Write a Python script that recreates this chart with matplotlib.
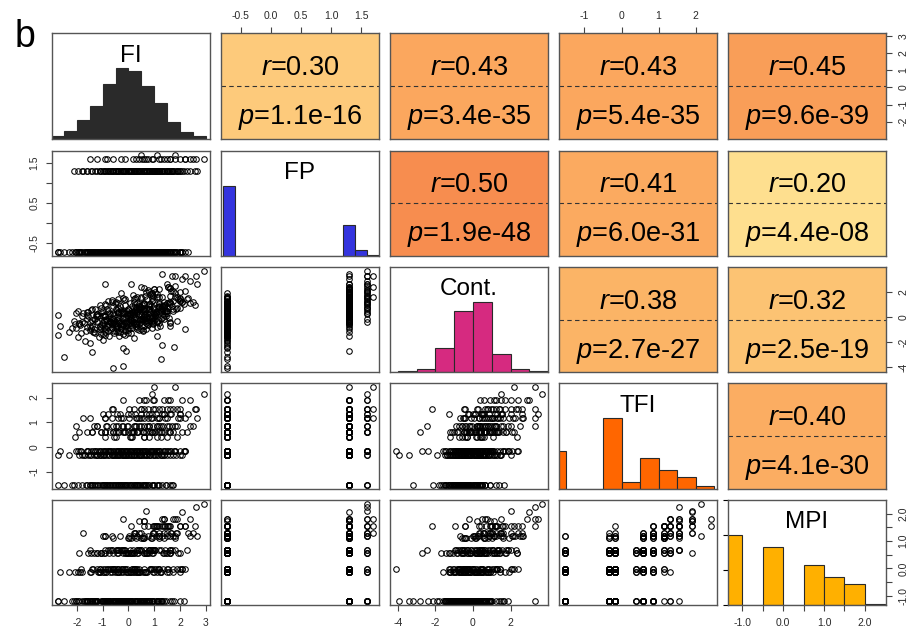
import numpy as np
import matplotlib
matplotlib.use('Agg')
import matplotlib.pyplot as plt

plt.rcParams['font.family'] = ['Liberation Sans', 'DejaVu Sans']
plt.rcParams['mathtext.fontset'] = 'custom'
plt.rcParams['mathtext.it'] = 'Liberation Sans:italic'
plt.rcParams['mathtext.rm'] = 'Liberation Sans'
plt.rcParams['axes.unicode_minus'] = False

var_names = ['FI', 'FP', 'Cont.', 'TFI', 'MPI']

# ---------------- sample values (read/estimated from the scatter panels) -------------
fi = [
    # FP low / TFI -1.53
    -2.75, -2.2, -1.95, -1.8, -1.65, -1.5, -1.4, -1.3, -1.2, -1.1,
    -1.0, -0.95, -0.85, -0.75, -2.51, -0.6, -0.55, -0.45, -0.4, -0.35,
    -0.3, -0.2, -0.15, -0.1, 0.0, 0.05, 0.15, 0.2, 0.3, 0.35,
    0.45, 0.55, 0.6, 0.7, 0.8, 0.9, 1.0, 1.15, 1.3, 1.45,
    1.6, 1.75,
    # FP low / TFI -0.34
    -2.73, -2.3, -1.9, -1.7, -1.55, -1.35, -1.2, -1.05, -0.95, -0.8,
    -0.65, -0.55, -0.45, -0.35, -0.2, -0.1, 0.0, 0.1, 0.2, 0.3,
    0.4, 0.5, 0.6, 0.7, 0.85, 0.95, 1.27, 1.25, 1.4, 1.6,
    1.85, 2.1,
    # FP low / TFI -0.18
    -2.65, -2.05, -1.85, -1.6, -1.45, -1.3, -1.15, -1.0, -0.9, -0.8,
    -0.7, -0.59, -0.5, -0.4, -0.3, -0.25, -0.15, -0.05, 0.05, 0.1,
    0.2, 0.3, 0.35, 0.45, 0.55, 0.6, 0.7, 0.8, 0.9, 1.0,
    1.1, 1.2, 1.35, 1.5, 1.76, 1.8, 2.0, 2.2,
    # FP low / higher TFI
    -2.08, -0.9, 0.1, 0.8, 1.5,
    -1.9, -1.4, -0.9, -0.5, -0.2, 0.1, 0.35, 0.6, 0.9, 1.2, 1.6, 2.1,
    -2.04, -1.2, -0.6, -0.2, 0.2, 0.5, 0.8, 1.1, 1.5, 1.9,
    -1.5, -0.3, 0.5, 1.2, 2.0,
    -1.0, 0.0, 0.7, 1.4, 2.3,
    -0.6, 0.5, 1.3, 2.0,
    0.4, 1.6,
    0.9,
    # FP 1.30
    -2.1, -1.0, -0.3, 0.2, 0.7, 1.2, 1.7,
    -1.8, -1.1, -0.6, -0.2, 0.2, 0.5, 0.8, 1.1, 1.5, 2.0,
    -1.95, -1.3, -0.8, -0.4, -0.1, 0.15, 0.4, 0.65, 0.9, 1.2, 1.55, 2.15,
    -0.5, 0.6, 1.9,
    -1.6, -0.9, -0.4, 0.0, 0.35, 0.7, 1.0, 1.4, 2.28,
    -1.2, -0.5, 0.0, 0.4, 0.8, 1.2, 1.7, 2.4,
    -1.78, -0.4, 0.3, 0.9, 1.5, 2.67,
    -0.8, 0.1, 0.8, 1.3, 2.0,
    -0.63, 0.6, 1.6, 2.6,
    -0.2, 1.0, 2.1,
    1.0,
    # FP 1.59
    -1.5, 0.3, 1.2, 2.2, -0.6, 0.9, 1.8, 0.4, 2.18, 1.4,
    2.64, 0.7, 2.93, -1.2, -0.3, 1.6, -0.9, 0.95, 2.5, 0.6,
    # FP 1.70
    1.1, 0.5, 1.8,
    # second batch: FP low
    -1.62, -1.33, -1.18, -1.02, -0.92, -0.83, -0.71, -0.64, -0.52, -0.47,
    -0.38, -0.27, -0.22, -0.12, -0.04, 0.08, 0.12, 0.24, 0.33, 0.41,
    0.52, 0.66, 0.78, 0.96, 1.12,
    -1.72, -1.48, -1.26, -1.12, -0.98, -0.86, -0.74, -0.62, -0.5, -0.42,
    -0.31, -0.24, -0.14, -0.06, 0.04, 0.14, 0.22, 0.32, 0.44, 0.56,
    0.68, 0.82, 0.98, 1.16, 1.38,
    -1.88, -1.56, -1.38, -1.22, -1.08, -0.96, -0.85, -0.76, -0.66, -0.56,
    -0.46, -0.36, -0.28, -0.19, -0.09, -0.01, 0.07, 0.16, 0.25, 0.34,
    0.42, 0.51, 0.63, 0.74, 0.86, 0.97, 1.09, 1.24, 1.42, 1.64,
    -0.55, 0.15, 0.62, 1.28,
    -1.42, -1.08, -0.72, -0.38, -0.12, 0.14, 0.38, 0.58, 0.82, 1.04, 1.32, 1.58,
    -1.32, -0.84, -0.42, -0.06, 0.28, 0.62, 0.94, 1.36,
    -0.92, -0.22, 0.34, 0.86, 1.42,
    -0.46, 0.26, 0.92, 1.62,
    0.02, 0.78, 1.18, 1.74,
    0.96, 1.38,
    # second batch: FP 1.30
    -1.42, -0.72, -0.12, 0.38, 0.94, 1.46,
    -1.46, -0.96, -0.52, -0.18, 0.12, 0.42, 0.72, 1.02, 1.32, 1.72,
    -1.62, -1.12, -0.72, -0.42, -0.16, 0.08, 0.32, 0.58, 0.84, 1.08, 1.38, 1.82,
    0.08, 1.12,
    -1.08, -0.58, -0.18, 0.22, 0.58, 0.92, 1.28, 1.72,
    -0.88, -0.26, 0.26, 0.72, 1.12, 1.58,
    -0.62, 0.02, 0.62, 1.18, 1.92,
    -0.32, 0.48, 1.08, 1.66,
    0.22, 1.02, 1.88,
    0.62, 1.52,
    # second batch: FP 1.59
    -0.82, -0.12, 0.52, 1.62, 0.18, 1.28, 0.78, 2.02, 1.48, 2.38,
]

fp = [
    -0.73, -0.73, -0.73, -0.73, -0.73, -0.73, -0.73, -0.73, -0.73, -0.73, -0.73, -0.73,
    -0.73, -0.73, -0.73, -0.73, -0.73, -0.73, -0.73, -0.73, -0.73, -0.73, -0.73, -0.73,
    -0.73, -0.73, -0.73, -0.73, -0.73, -0.73, -0.73, -0.73, -0.73, -0.73, -0.73, -0.73,
    -0.73, -0.73, -0.73, -0.73, -0.73, -0.73, -0.73, -0.73, -0.73, -0.73, -0.73, -0.73,
    -0.73, -0.73, -0.73, -0.73, -0.73, -0.73, -0.73, -0.73, -0.73, -0.73, -0.73, -0.73,
    -0.73, -0.73, -0.73, -0.73, -0.73, -0.73, -0.73, -0.73, -0.73, -0.73, -0.73, -0.73,
    -0.73, -0.73, -0.73, -0.73, -0.73, -0.73, -0.73, -0.73, -0.73, -0.73, -0.73, -0.73,
    -0.73, -0.73, -0.73, -0.73, -0.73, -0.73, -0.73, -0.73, -0.73, -0.73, -0.73, -0.73,
    -0.73, -0.73, -0.73, -0.73, -0.73, -0.73, -0.73, -0.73, -0.73, -0.73, -0.73, -0.73,
    -0.73, -0.73, -0.73, -0.73, -0.73, -0.73, -0.73, -0.73, -0.73, -0.73, -0.73, -0.73,
    -0.73, -0.73, -0.73, -0.73, -0.73, -0.73, -0.73, -0.73, -0.73, -0.73, -0.73, -0.73,
    -0.73, -0.73, -0.73, -0.73, -0.73, -0.73, -0.73, -0.73, -0.73, -0.73, -0.73, -0.73,
    -0.73, -0.73, -0.73, -0.73, -0.73, -0.73, -0.73, -0.73, -0.73, -0.73, -0.73, -0.73,
    1.30, 1.30, 1.30, 1.30, 1.30, 1.30, 1.30, 1.30, 1.30, 1.30, 1.30, 1.30,
    1.30, 1.30, 1.30, 1.30, 1.30, 1.30, 1.30, 1.30, 1.30, 1.30, 1.30, 1.30,
    1.30, 1.30, 1.30, 1.30, 1.30, 1.30, 1.30, 1.30, 1.30, 1.30, 1.30, 1.30,
    1.30, 1.30, 1.30, 1.30, 1.30, 1.30, 1.30, 1.30, 1.30, 1.30, 1.30, 1.30,
    1.30, 1.30, 1.30, 1.30, 1.30, 1.30, 1.30, 1.30, 1.30, 1.30, 1.30, 1.30,
    1.30, 1.30, 1.30, 1.30, 1.30, 1.30, 1.30, 1.30,
    1.59, 1.59, 1.59, 1.59, 1.59, 1.59, 1.59, 1.59, 1.59, 1.59,
    1.59, 1.59, 1.59, 1.59, 1.59, 1.59, 1.59, 1.59, 1.59, 1.59,
    1.70, 1.70, 1.70,
    # second batch
    -0.73, -0.73, -0.73, -0.73, -0.73, -0.73, -0.73, -0.73, -0.73, -0.73, -0.73, -0.73,
    -0.73, -0.73, -0.73, -0.73, -0.73, -0.73, -0.73, -0.73, -0.73, -0.73, -0.73, -0.73,
    -0.73, -0.73, -0.73, -0.73, -0.73, -0.73, -0.73, -0.73, -0.73, -0.73, -0.73, -0.73,
    -0.73, -0.73, -0.73, -0.73, -0.73, -0.73, -0.73, -0.73, -0.73, -0.73, -0.73, -0.73,
    -0.73, -0.73, -0.73, -0.73, -0.73, -0.73, -0.73, -0.73, -0.73, -0.73, -0.73, -0.73,
    -0.73, -0.73, -0.73, -0.73, -0.73, -0.73, -0.73, -0.73, -0.73, -0.73, -0.73, -0.73,
    -0.73, -0.73, -0.73, -0.73, -0.73, -0.73, -0.73, -0.73, -0.73, -0.73, -0.73, -0.73,
    -0.73, -0.73, -0.73, -0.73, -0.73, -0.73, -0.73, -0.73, -0.73, -0.73, -0.73, -0.73,
    -0.73, -0.73, -0.73, -0.73, -0.73, -0.73, -0.73, -0.73, -0.73, -0.73, -0.73, -0.73,
    -0.73, -0.73, -0.73, -0.73, -0.73, -0.73, -0.73, -0.73, -0.73, -0.73, -0.73,
    1.30, 1.30, 1.30, 1.30, 1.30, 1.30, 1.30, 1.30, 1.30, 1.30, 1.30, 1.30,
    1.30, 1.30, 1.30, 1.30, 1.30, 1.30, 1.30, 1.30, 1.30, 1.30, 1.30, 1.30,
    1.30, 1.30, 1.30, 1.30, 1.30, 1.30, 1.30, 1.30, 1.30, 1.30, 1.30, 1.30,
    1.30, 1.30, 1.30, 1.30, 1.30, 1.30, 1.30, 1.30, 1.30, 1.30, 1.30, 1.30,
    1.30, 1.30, 1.30, 1.30, 1.30, 1.30, 1.30, 1.30, 1.30, 1.30,
    1.59, 1.59, 1.59, 1.59, 1.59, 1.59, 1.59, 1.59, 1.59, 1.59,
]

cont = [
    -1.46, -0.9, -1.6, -0.4, -1.1, -2.1, -0.7, -1.3, 0.1, -0.95,
    -1.8, -0.3, -1.0, -0.55, -3.2, -0.2, -1.25, -0.75, 0.3, -1.5,
    -0.6, -0.05, -1.05, -0.45, -0.85, 0.2, -0.35, -1.7, -0.6, 0.45,
    -0.2, -1.1, 0.0, -0.5, 0.65, -0.9, 0.3, -0.25, 1.63, 0.1,
    -0.7, 0.5,
    0.19, -1.2, -0.6, -1.9, 0.4, -0.95, -0.3, -1.4, 0.15, -0.8,
    -0.1, -1.1, 0.55, -0.5, -3.94, -0.7, 0.25, -1.3, -0.2, 0.7,
    -0.45, -1.0, 0.1, -0.3, 1.0, -0.6, -3.38, -0.15, 0.8, -0.4,
    0.6, 1.2,
    -0.7, 0.35, -1.3, -0.2, -0.85, 0.6, -1.6, -0.45, 0.05, -1.15,
    -0.3, -4.1, -0.65, 0.4, -0.9, -0.1, -1.45, 0.15, -0.5, -0.05,
    0.75, -0.75, 0.3, -0.25, -1.05, 0.5, -0.1, 0.9, -0.45, 0.2,
    -0.8, 1.1, 0.0, 0.45, -2.4, 1.88, 0.7, -0.93,
    -0.6, -1.2, 0.2, -0.3, 0.5,
    -0.5, -2.8, 0.1, -0.8, 0.4, -0.35, -1.0, 0.7, -0.1, 0.9, -0.5, 1.2,
    -0.9, 0.2, -0.6, -2.45, 0.5, -0.2, 1.0, -0.4, 0.3, 1.6,
    -0.7, 0.3, -0.4, 0.8, 1.3,
    0.1, -1.3, 0.6, -0.2, 1.5,
    -0.5, 0.8, -2.2, 1.4,
    0.9, 1.7,
    1.5,
    -0.3, 0.5, -1.0, 1.2, 0.2, -0.5, 0.9,
    0.1, -0.8, 0.9, 0.3, -0.4, 1.5, 0.6, -1.5, 1.1, 2.0,
    0.5, -0.2, 1.3, 0.7, -2.7, 0.9, 0.2, 1.7, -0.3, 0.8, 2.4, 1.0,
    0.6, 2.34, -0.3,
    0.4, 1.0, -1.2, 0.6, 1.6, 0.0, 2.2, 0.9, 1.4,
    0.2, 1.2, -0.6, 0.8, 2.0, 0.3, 3.3, 1.1,
    0.3, 1.1, -0.5, 1.9, 0.7, 2.67,
    0.5, 2.6, 0.0, 3.47, 1.3,
    1.2, 0.2, 2.3, 0.94,
    1.5, 0.6, 3.0,
    2.2,
    -0.4, 0.8, 1.6, 2.1, 0.3, 1.3, 2.5, 1.0, 3.28, 0.5,
    3.28, 2.0, 3.68, 0.2, 1.9, 1.1, 2.6, 1.7, 1.2, -0.2,
    1.6, 2.4, 3.3,
    # second batch: FP low
    -0.82, -1.21, 0.05, -0.66, -1.42, -0.31, -0.95, 0.22, -0.58, -1.12,
    -0.18, -0.74, -1.33, -0.41, 0.14, -0.88, -0.26, -0.52, 0.36, -1.02,
    -0.14, 0.48, -0.68, 0.08, -0.36,
    -0.45, -1.05, 0.12, -0.72, -1.38, -0.21, 0.35, -0.92, -0.48, 0.02,
    -1.18, -0.62, -0.08, 0.48, -0.35, -0.86, 0.24, -0.55, 0.62, -0.15,
    -0.98, 0.4, -0.28, 0.82, 0.18,
    -0.62, 0.08, -1.24, -0.38, 0.42, -0.86, -0.16, -1.48, -0.52, 0.18,
    -0.94, -0.3, 0.56, -0.68, -0.12, -1.06, 0.32, -0.44, -0.02, -0.78,
    0.64, -0.24, 0.12, -0.56, 0.86, -0.36, 0.28, -0.72, 0.46, 1.02,
    -0.42, 0.18, -0.75, 0.36,
    -0.22, -0.86, 0.26, -0.48, -1.12, 0.42, -0.14, 0.62, -0.36, 0.18, 0.84, -0.08,
    -0.18, -0.72, 0.36, -0.38, 0.58, -0.06, 0.82, 0.24,
    0.06, -0.54, 0.46, -0.12, 0.92,
    -0.28, 0.54, 0.12, 1.18,
    0.28, -0.42, 1.06, 0.62,
    0.36, 1.22,
    # second batch: FP 1.30
    0.62, -0.36, 0.92, 0.14, 1.36, 0.48,
    0.52, -0.24, 1.12, 0.34, -0.62, 0.86, 1.46, 0.08, 0.72, 1.28,
    0.18, 0.92, -0.44, 1.42, 0.48, -0.18, 1.08, 0.62, 1.86, 0.24, 0.96, 1.62,
    1.08, 0.42,
    0.72, -0.34, 1.32, 0.42, 1.02, 1.74, 0.58, 2.06,
    0.92, 0.38, 1.48, 0.62, 1.86, 1.18,
    1.32, 0.58, 1.02, 2.22, 1.42,
    0.88, 1.56, 0.42, 2.04,
    1.42, 2.02, 0.74,
    1.12, 2.42,
    # second batch: FP 1.59
    0.62, 1.42, 0.92, 2.32, 1.76, 0.68, 2.12, 1.52, 2.62, 2.86,
]

tfi = [
    -1.53, -1.53, -1.53, -1.53, -1.53, -1.53, -1.53, -1.53, -1.53, -1.53, -1.53, -1.53,
    -1.53, -1.53, -1.53, -1.53, -1.53, -1.53, -1.53, -1.53, -1.53, -1.53, -1.53, -1.53,
    -1.53, -1.53, -1.53, -1.53, -1.53, -1.53, -1.53, -1.53, -1.53, -1.53, -1.53, -1.53,
    -1.53, -1.53, -1.53, -1.53, -1.53, -1.53,
    -0.34, -0.34, -0.34, -0.34, -0.34, -0.34, -0.34, -0.34, -0.34, -0.34, -0.34, -0.34,
    -0.34, -0.34, -0.34, -0.34, -0.34, -0.34, -0.34, -0.34, -0.34, -0.34, -0.34, -0.34,
    -0.34, -0.34, -0.34, -0.34, -0.34, -0.34, -0.34, -0.34,
    -0.18, -0.18, -0.18, -0.18, -0.18, -0.18, -0.18, -0.18, -0.18, -0.18, -0.18, -0.18,
    -0.18, -0.18, -0.18, -0.18, -0.18, -0.18, -0.18, -0.18, -0.18, -0.18, -0.18, -0.18,
    -0.18, -0.18, -0.18, -0.18, -0.18, -0.18, -0.18, -0.18, -0.18, -0.18, -0.18, -0.18,
    -0.18, -0.18,
    0.40, 0.40, 0.40, 0.40, 0.40,
    0.59, 0.59, 0.59, 0.59, 0.59, 0.59, 0.59, 0.59, 0.59, 0.59, 0.59, 0.59,
    0.86, 0.86, 0.86, 0.86, 0.86, 0.86, 0.86, 0.86, 0.86, 0.86,
    1.16, 1.16, 1.16, 1.16, 1.16,
    1.32, 1.32, 1.32, 1.32, 1.32,
    1.54, 1.54, 1.54, 1.54,
    1.91, 1.91,
    2.15,
    -1.53, -1.53, -1.53, -1.53, -1.53, -1.53, -1.53,
    -0.34, -0.34, -0.34, -0.34, -0.34, -0.34, -0.34, -0.34, -0.34, -0.34,
    -0.18, -0.18, -0.18, -0.18, -0.18, -0.18, -0.18, -0.18, -0.18, -0.18, -0.18, -0.18,
    0.40, 0.40, 0.40,
    0.59, 0.59, 0.59, 0.59, 0.59, 0.59, 0.59, 0.59, 0.59,
    0.86, 0.86, 0.86, 0.86, 0.86, 0.86, 0.86, 0.86,
    1.16, 1.16, 1.16, 1.16, 1.16, 1.16,
    1.32, 1.32, 1.32, 1.32, 1.32,
    1.54, 1.54, 1.54, 1.54,
    1.91, 1.91, 1.91,
    2.42,
    -1.53, -0.18, -0.18, -0.18, 0.59, 0.59, 0.86, 1.16, 1.16, 1.32,
    1.54, 1.91, 2.15, -0.34, -0.18, 0.59, 1.16, 1.54, 0.86, -1.53,
    1.16, 1.54, 2.42,
    # second batch: FP low
    -1.53, -1.53, -1.53, -1.53, -1.53, -1.53, -1.53, -1.53, -1.53, -1.53,
    -1.53, -1.53, -1.53, -1.53, -1.53, -1.53, -1.53, -1.53, -1.53, -1.53,
    -1.53, -1.53, -1.53, -1.53, -1.53,
    -0.34, -0.34, -0.34, -0.34, -0.34, -0.34, -0.34, -0.34, -0.34, -0.34,
    -0.34, -0.34, -0.34, -0.34, -0.34, -0.34, -0.34, -0.34, -0.34, -0.34,
    -0.34, -0.34, -0.34, -0.34, -0.34,
    -0.18, -0.18, -0.18, -0.18, -0.18, -0.18, -0.18, -0.18, -0.18, -0.18,
    -0.18, -0.18, -0.18, -0.18, -0.18, -0.18, -0.18, -0.18, -0.18, -0.18,
    -0.18, -0.18, -0.18, -0.18, -0.18, -0.18, -0.18, -0.18, -0.18, -0.18,
    0.40, 0.40, 0.40, 0.40,
    0.59, 0.59, 0.59, 0.59, 0.59, 0.59, 0.59, 0.59, 0.59, 0.59, 0.59, 0.59,
    0.86, 0.86, 0.86, 0.86, 0.86, 0.86, 0.86, 0.86,
    1.16, 1.16, 1.16, 1.16, 1.16,
    1.32, 1.32, 1.32, 1.32,
    1.54, 1.54, 1.54, 1.54,
    1.91, 1.91,
    # second batch: FP 1.30
    -1.53, -1.53, -1.53, -1.53, -1.53, -1.53,
    -0.34, -0.34, -0.34, -0.34, -0.34, -0.34, -0.34, -0.34, -0.34, -0.34,
    -0.18, -0.18, -0.18, -0.18, -0.18, -0.18, -0.18, -0.18, -0.18, -0.18, -0.18, -0.18,
    0.40, 0.40,
    0.59, 0.59, 0.59, 0.59, 0.59, 0.59, 0.59, 0.59,
    0.86, 0.86, 0.86, 0.86, 0.86, 0.86,
    1.16, 1.16, 1.16, 1.16, 1.16,
    1.32, 1.32, 1.32, 1.32,
    1.54, 1.54, 1.54,
    1.91, 1.91,
    # second batch: FP 1.59
    -1.53, -0.34, -0.18, -0.18, 0.59, 0.86, 1.16, 1.32, 1.54, 1.91,
]

mpi = [
    -1.2, -1.2, -1.2, -0.12, -1.2, -1.2, -0.02, -1.2, -1.2, -0.12,
    -1.2, 0.55, -1.2, -1.2, -1.2, -0.02, -1.2, -0.12, -1.2, -1.2,
    0.68, -1.2, -0.02, -1.2, -1.2, -0.12, -1.2, 0.55, -1.2, -0.02,
    -1.2, -1.2, 1.18, -0.12, -1.2, 0.68, -1.2, -0.02, -1.2, 0.55,
    1.18, -0.12,
    -1.2, -0.12, -1.2, -1.2, 0.55, -1.2, -0.02, -1.2, -0.12, -1.2,
    0.68, -1.2, -0.02, -1.2, -1.2, -0.12, -1.2, 0.55, -0.02, -1.2,
    -0.12, -1.2, 1.1, -1.2, -0.02, 0.68, -1.2, -0.12, 0.55, -1.2,
    1.29, -0.02,
    -0.12, -1.2, -0.02, -1.2, 0.55, -1.2, -0.12, -0.02, -1.2, -1.2,
    0.68, -0.02, -1.2, -0.12, -1.2, -0.02, 0.55, -1.2, -0.12, -1.2,
    -0.02, -1.2, 0.68, -0.12, -1.2, -0.02, 0.55, -1.2, -0.02, -0.12,
    -1.2, 1.18, -0.02, 0.55, -1.2, 0.68, -0.12, 1.57,
    -0.12, 0.55, -1.2, 0.68, -0.02,
    0.55, -1.2, -0.02, 0.68, -1.2, 1.1, -0.12, 0.55, -1.2, 1.29, 0.68, -0.02,
    -1.2, 0.55, -0.02, 0.68, 1.18, -1.2, 0.55, 1.57, -0.12, 1.29,
    0.68, -1.2, 1.1, -0.02, 1.57,
    1.18, -0.12, 0.55, 1.82, 1.29,
    1.1, 0.68, 1.57, -1.2,
    1.72, 0.55,
    1.18,
    -1.2, -0.12, -1.2, 0.55, -1.2, -0.02, 0.68,
    -1.2, -0.02, -1.2, 0.55, -0.12, -1.2, 0.68, -1.2, 1.18, -0.02,
    -0.12, -1.2, -0.02, -1.2, 0.55, -1.2, 0.68, -0.12, -1.2, 1.1, -0.02, -1.2,
    -1.2, 0.55, -0.02,
    -1.2, 0.68, -0.12, 0.55, 1.18, -1.2, -0.02, 1.29, 0.68,
    0.55, -1.2, 1.1, -0.12, 0.68, 1.57, -1.2, 1.18,
    1.29, 0.55, -0.02, 1.1, 1.57, 1.18,
    0.68, 1.57, -1.2, 1.82, 0.55,
    1.18, 1.72, 0.68, 1.57,
    1.82, 1.29, 2.06,
    1.57,
    -1.2, -0.12, -1.2, -0.02, 0.55, 0.68, 1.18, 1.29, 1.57, 1.82,
    2.24, 2.12, 2.37, -1.2, -0.12, 0.55, 1.18, 1.57, 1.29, -1.2,
    1.57, 1.29, 1.82,
    # second batch: FP low
    -1.2, -1.2, -0.12, -1.2, -1.2, -0.02, -1.2, -1.2, -0.12, -1.2,
    -1.2, -0.02, -1.2, -1.2, 0.55, -1.2, -0.12, -1.2, -1.2, -0.02,
    -1.2, 0.68, -1.2, -0.12, -1.2,
    -1.2, -0.12, -1.2, -0.02, -1.2, -1.2, 0.55, -0.12, -1.2, -0.02,
    -1.2, -1.2, 0.68, -0.12, -1.2, -0.02, -1.2, 0.55, -1.2, -0.12,
    -1.2, -0.02, 0.68, -1.2, 1.1,
    -0.12, -1.2, -0.02, -1.2, 0.55, -1.2, -0.12, -1.2, -0.02, -1.2,
    0.68, -0.12, -1.2, -0.02, -1.2, 0.55, -1.2, -0.12, -0.02, -1.2,
    0.68, -1.2, -0.12, 0.55, -0.02, -1.2, 1.18, -0.12, 0.68, 1.29,
    -0.02, 0.55, -1.2, 0.68,
    -1.2, 0.55, -0.12, 0.68, -1.2, -0.02, 0.55, 1.1, -1.2, 0.68, 1.18, -0.12,
    0.55, -1.2, 0.68, -0.02, 1.1, -1.2, 1.29, 0.55,
    1.18, -0.12, 0.68, 1.1, 1.57,
    0.55, 1.29, -1.2, 1.57,
    1.18, 1.57, 0.68, 1.82,
    1.29, 1.57,
    # second batch: FP 1.30
    -1.2, -0.02, -1.2, -0.12, 0.55, -1.2,
    -0.12, -1.2, -0.02, -1.2, 0.55, -1.2, -0.12, 0.68, -1.2, -0.02,
    -1.2, -0.12, -1.2, -0.02, -1.2, 0.55, -0.12, -1.2, 0.68, -0.02, -1.2, 1.1,
    0.68, -0.12,
    0.55, -1.2, 0.68, -0.02, 1.1, 0.55, -1.2, 1.18,
    -0.12, 0.68, 1.29, 0.55, -1.2, 1.57,
    0.68, 1.1, 1.57, 1.18, 0.55,
    1.18, 0.68, 1.57, 1.29,
    1.29, 1.57, 1.82,
    1.72, 1.57,
    # second batch: FP 1.59
    -1.2, -0.02, -1.2, 0.55, 0.68, -0.12, 1.18, 1.57, 1.29, 1.82,
]

# ---------------- histogram bars (relative heights) --------
fi_edges = [-3.0, -2.5, -2.0, -1.5, -1.0, -0.5, 0.0, 0.5, 1.0, 1.5, 2.0, 2.5, 3.0]
fi_heights = [0.03, 0.11, 0.26, 0.46, 0.77, 1.0, 0.96, 0.75, 0.50, 0.23, 0.09, 0.04]
fp_edges = [-0.8, -0.6, -0.4, -0.2, 0.0, 0.2, 0.4, 0.6, 0.8, 1.0, 1.2, 1.4, 1.6, 1.8]
fp_heights = [1.0, 0, 0, 0, 0, 0, 0, 0, 0, 0, 0.44, 0.086, 0.015]
cont_edges = [-5, -4, -3, -2, -1, 0, 1, 2, 3, 4]
cont_heights = [0.005, 0.02, 0.05, 0.35, 0.87, 1.0, 0.26, 0.05, 0.015]
tfi_edges = [-2.0, -1.5, -1.0, -0.5, 0.0, 0.5, 1.0, 1.5, 2.0, 2.5]
tfi_heights = [0.53, 0, 0, 1.0, 0.09, 0.44, 0.27, 0.17, 0.04]
mpi_edges = [-1.5, -1.0, -0.5, 0.0, 0.5, 1.0, 1.5, 2.0, 2.5]
mpi_heights = [1.0, 0, 0.82, 0, 0.57, 0.40, 0.30, 0.02]
hist_colors = ['#2a2a2a', '#3434de', '#d62a80', '#ff6600', '#ffb000']

# ---------------- upper panels ----------------
upper_cells = [(0, 1), (0, 2), (0, 3), (0, 4), (1, 2), (1, 3), (1, 4), (2, 3), (2, 4), (3, 4)]
r_labels = ['0.30', '0.43', '0.43', '0.45', '0.50', '0.41', '0.20', '0.38', '0.32', '0.40']
p_labels = ['1.1e-16', '3.4e-35', '5.4e-35', '9.6e-39', '1.9e-48',
            '6.0e-31', '4.4e-08', '2.7e-27', '2.5e-19', '4.1e-30']
upper_colors = ['#fdca7b', '#fba75e', '#fba75e', '#f99e58', '#f78d4f',
                '#fbaa60', '#fedf8f', '#fbb466', '#fcc373', '#fbad62']

n = min(len(fi), len(fp), len(cont), len(tfi), len(mpi))
data = [np.array(fi[:n]), np.array(fp[:n]), np.array(cont[:n]),
        np.array(tfi[:n]), np.array(mpi[:n])]
hists = [(fi_edges, fi_heights), (fp_edges, fp_heights), (cont_edges, cont_heights),
         (tfi_edges, tfi_heights), (mpi_edges, mpi_heights)]


def rlim(v):
    lo, hi = float(np.min(v)), float(np.max(v))
    d = (hi - lo) * 0.04
    return lo - d, hi + d


lims = [rlim(v) for v in data]

# ticks
fp_ticks = [-0.5, 0.0, 0.5, 1.0, 1.5]
fp_tlab = ['-0.5', '0.0', '0.5', '1.0', '1.5']
fp_tlab_left = ['-0.5', '', '0.5', '', '1.5']
tfi_ticks = [-1, 0, 1, 2]
tfi_tlab = ['-1', '0', '1', '2']
fi_ticks = [-2, -1, 0, 1, 2, 3]
fi_tlab = ['-2', '-1', '0', '1', '2', '3']
cont_ticks = [-4, -2, 0, 2]
cont_tlab = ['-4', '-2', '0', '2']
mpi_ticks = [-1.0, -0.5, 0.0, 0.5, 1.0, 1.5, 2.0]
mpi_tlab = ['-1.0', '', '0.0', '', '1.0', '', '2.0']

W, H = 919.0, 634.0
col_left = [51.7, 221.0, 390.0, 559.0, 728.0]
col_w = 158.0
row_top = [33.3, 150.7, 267.0, 383.3, 499.8]
row_h = 105.2

fig = plt.figure(figsize=(9.19, 6.34), dpi=100)

frame_col = '#555555'
tick_kw = dict(length=4, width=0.8, color='#444444', labelsize=7.5, labelcolor='#2a2a2a', pad=5)


def style_frame(ax):
    for s in ax.spines.values():
        s.set_color(frame_col)
        s.set_linewidth(1.0)
    ax.tick_params(which='both', bottom=False, top=False, left=False, right=False,
                   labelbottom=False, labeltop=False, labelleft=False, labelright=False)


axes = {}
for i in range(5):
    for j in range(5):
        rect = [col_left[j] / W, 1 - (row_top[i] + row_h) / H, col_w / W, row_h / H]
        ax = fig.add_axes(rect)
        style_frame(ax)
        axes[(i, j)] = ax
        if i == j:
            edges, heights = hists[i]
            e = np.array(edges, dtype=float)
            ax.bar(e[:-1], heights, width=np.diff(e), align='edge',
                   color=hist_colors[i], edgecolor='#2a2a2a', linewidth=0.8)
            ax.set_xlim(lims[i])
            ax.set_ylim(0, 1.5)
            ax.text(0.5, 0.73, var_names[i], transform=ax.transAxes, ha='center',
                    va='baseline', fontsize=17.5)
        elif i > j:
            ax.plot(data[j], data[i], linestyle='none', marker='o', ms=4.0,
                    mfc='none', mec='black', mew=0.75)
            ax.set_xlim(lims[j])
            ax.set_ylim(lims[i])
        else:
            k = upper_cells.index((i, j))
            ax.set_facecolor(upper_colors[k])
            ax.set_xlim(lims[j])
            ax.set_ylim(lims[i])
            ax.plot([0, 1], [0.5, 0.5], transform=ax.transAxes, color='#333333',
                    lw=0.8, ls=(0, (4, 3)))
            ax.text(0.5, 0.605, '$r$=' + r_labels[k], transform=ax.transAxes,
                    ha='center', va='baseline', fontsize=19.5)
            ax.text(0.5, 0.137, '$p$=' + p_labels[k], transform=ax.transAxes,
                    ha='center', va='baseline', fontsize=19.5)

# outer axes
ax = axes[(0, 1)]
ax.set_xticks(fp_ticks, fp_tlab)
ax.tick_params(axis='x', top=True, labeltop=True, **tick_kw)
ax = axes[(0, 3)]
ax.set_xticks(tfi_ticks, tfi_tlab)
ax.tick_params(axis='x', top=True, labeltop=True, **tick_kw)

ax = axes[(4, 0)]
ax.set_xticks(fi_ticks, fi_tlab)
ax.tick_params(axis='x', bottom=True, labelbottom=True, **tick_kw)
ax = axes[(4, 2)]
ax.set_xticks(cont_ticks, cont_tlab)
ax.tick_params(axis='x', bottom=True, labelbottom=True, **tick_kw)
ax = axes[(4, 4)]
ax.set_xticks(mpi_ticks, mpi_tlab)
ax.tick_params(axis='x', bottom=True, labelbottom=True, **tick_kw)

ax = axes[(1, 0)]
ax.set_yticks(fp_ticks, fp_tlab_left)
ax.tick_params(axis='y', left=True, labelleft=True, labelrotation=90, **tick_kw)
ax = axes[(3, 0)]
ax.set_yticks(tfi_ticks, tfi_tlab)
ax.tick_params(axis='y', left=True, labelleft=True, labelrotation=90, **tick_kw)

ax = axes[(0, 4)]
ax.set_yticks(fi_ticks, fi_tlab)
ax.tick_params(axis='y', right=True, labelright=True, labelrotation=90, **tick_kw)
ax = axes[(2, 4)]
ax.set_yticks(cont_ticks, cont_tlab)
ax.tick_params(axis='y', right=True, labelright=True, labelrotation=90, **tick_kw)

ax2 = axes[(4, 4)].twinx()
ax2.set_ylim(lims[4])
for s in ax2.spines.values():
    s.set_visible(False)
ax2.set_yticks(mpi_ticks, mpi_tlab)
ax2.tick_params(axis='y', right=True, labelright=True, labelrotation=90, **tick_kw)

for a in fig.axes:
    for lab in a.get_yticklabels():
        lab.set_verticalalignment('center')

fig.text(15 / W, 1 - 47 / H, 'b', fontsize=27, ha='left', va='baseline')

fig.savefig('out.png', dpi=100)
